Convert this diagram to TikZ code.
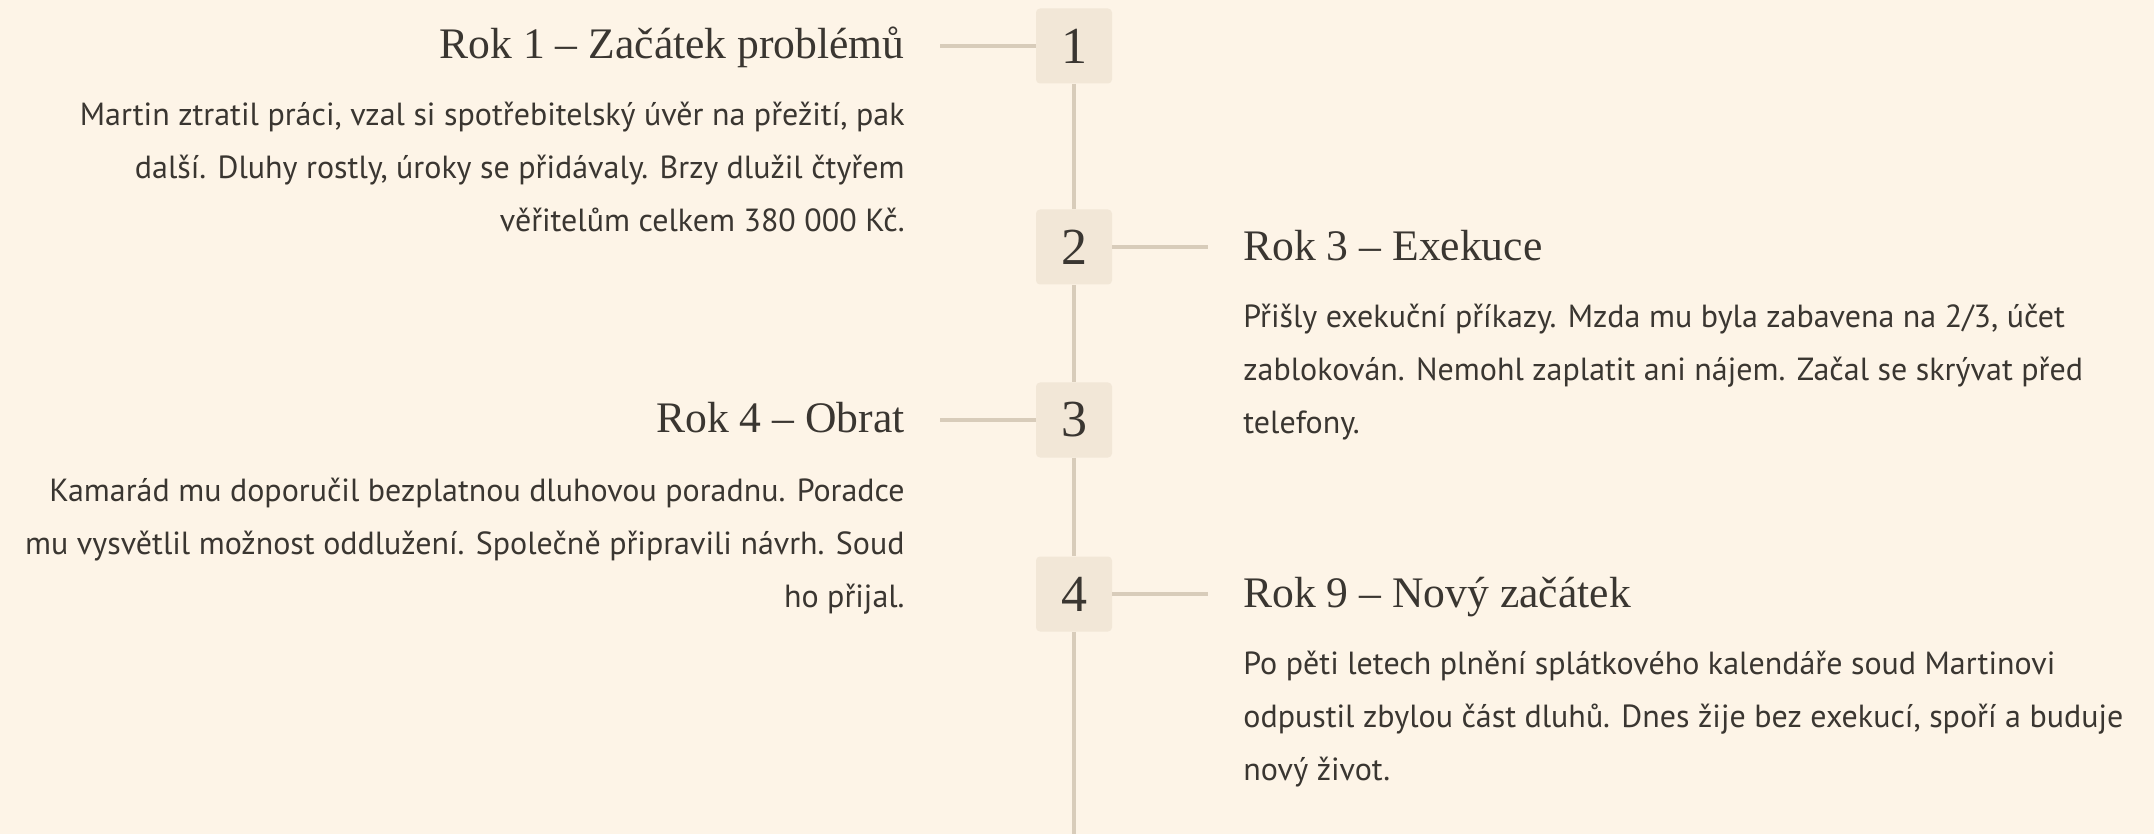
\documentclass[tikz,border=0pt]{standalone}
\usepackage{fontspec}
\setmainfont{PT Sans}
\newfontfamily\headfont{Liberation Serif}
\definecolor{bgcream}{HTML}{FDF4E7}
\definecolor{boxfill}{HTML}{F2E7D7}
\definecolor{linetan}{HTML}{D8CCBA}
\definecolor{inkbrown}{HTML}{3A3631}
\begin{document}
\begin{tikzpicture}[x=0.5pt,y=-0.5pt,
  yearbox/.style={fill=boxfill,rounded corners=2pt,minimum width=38pt,minimum height=37.5pt,
    inner sep=0pt,text=inkbrown,font=\headfont\fontsize{26}{26}\selectfont},
  spine/.style={draw=linetan,line width=2pt},
  title/.style={inner sep=0pt,text=inkbrown,font=\headfont\fontsize{21.8}{24}\selectfont},
  story/.style={inner sep=0pt,text=inkbrown,font=\fontsize{16}{26.5}\selectfont}]
  \fill[bgcream] (0,0) rectangle (2154,834);
  \useasboundingbox (0,0) rectangle (2154,834);
  % year markers on the spine
  \node[yearbox] (b1) at (1074,46) {1};
  \node[yearbox] (b2) at (1074,247) {2};
  \node[yearbox] (b3) at (1074,420) {3};
  \node[yearbox] (b4) at (1074,594) {4};
  \coordinate (bottom) at (1074,834);
  \draw[spine] (b1.south)--(b2.north);
  \draw[spine] (b2.south)--(b3.north);
  \draw[spine] (b3.south)--(b4.north);
  \draw[spine] (b4.south)--(bottom);
  % connectors
  \coordinate (c1) at (940,46);
  \coordinate (c2) at (1208,247);
  \coordinate (c3) at (940,420);
  \coordinate (c4) at (1208,594);
  \draw[spine] (c1)--(b1.west);
  \draw[spine] (b2.east)--(c2);
  \draw[spine] (c3)--(b3.west);
  \draw[spine] (b4.east)--(c4);
  % left column (story nodes sit on their last line)
  \node[title,anchor=base east] (t1) at (905,59) {Rok 1 – Začátek problémů};
  \node[story,anchor=base east,align=right] (s1) at (905,232)
    {Martin ztratil práci, vzal si spotřebitelský úvěr na přežití, pak\\
     další. Dluhy rostly, úroky se přidávaly. Brzy dlužil čtyřem\\
     věřitelům celkem 380 000 Kč.};
  \node[title,anchor=base east] (t3) at (905,432) {Rok 4 – Obrat};
  \node[story,anchor=base east,align=right] (s3) at (905,607)
    {Kamarád mu doporučil bezplatnou dluhovou poradnu. Poradce\\
     mu vysvětlil možnost oddlužení. Společně připravili návrh. Soud\\
     ho přijal.};
  % right column
  \node[title,anchor=base west] (t2) at (1243,261) {Rok 3 – Exekuce};
  \node[story,anchor=base west,align=left] (s2) at (1243,433)
    {Přišly exekuční příkazy. Mzda mu byla zabavena na 2/3, účet\\
     zablokován. Nemohl zaplatit ani nájem. Začal se skrývat před\\
     telefony.};
  \node[title,anchor=base west] (t4) at (1243,607) {Rok 9 – Nový začátek};
  \node[story,anchor=base west,align=left] (s4) at (1243,780)
    {Po pěti letech plnění splátkového kalendáře soud Martinovi\\
     odpustil zbylou část dluhů. Dnes žije bez exekucí, spoří a buduje\\
     nový život.};
\end{tikzpicture}
\end{document}
